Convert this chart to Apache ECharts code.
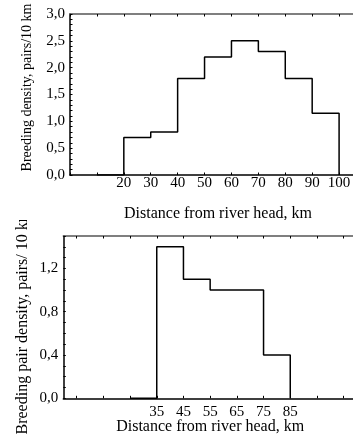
<!DOCTYPE html>
<html>
<head>
<meta charset="utf-8">
<script src="https://cdn.jsdelivr.net/npm/echarts@6/dist/echarts.min.js"></script>
<style>
html,body{margin:0;padding:0;overflow:hidden;width:353px;height:441px;background:#fff;}
#c1{position:absolute;left:0;top:0;width:380px;height:220px;}
#c2{position:absolute;left:0;top:220px;width:380px;height:221px;}
</style>
</head>
<body>
<div id="c1"></div>
<div id="c2"></div>
<script>
// Top chart: breeding density by 10-km section (left edge of each section)
var topEdges = [10, 20, 30, 40, 50, 60, 70, 80, 90, 100];
var topValues = [0, 0.7, 0.8, 1.8, 2.2, 2.5, 2.3, 1.8, 1.15, 0];
var topXLabels = [20, 30, 40, 50, 60, 70, 80, 90, 100];
var topYLabels = [0, 0.5, 1.0, 1.5, 2.0, 2.5, 3.0];

// Bottom chart
var botEdges = [25, 35, 45, 55, 65, 75, 85];
var botValues = [0, 1.4, 1.1, 1.0, 1.0, 0.4, 0];
var botXLabels = [35, 45, 55, 65, 75, 85];
var botYLabels = [0, 0.4, 0.8, 1.2];

function range(a, b, s) { var r = []; for (var v = a; v <= b + 1e-9; v += s) r.push(Math.round(v * 100) / 100); return r; }
var FONT = 'Liberation Serif';
function fmt(v) { return v.toFixed(1).replace('.', ','); }

function makeOption(cfg) {
  var xTicks = cfg.xTicks;
  var grid = cfg.grid;
  grid.outerBoundsMode = 'none';
  grid.containLabel = false;
  return {
    animation: false,
    grid: grid,
    xAxis: [{
      type: 'value', min: 0, max: cfg.xMax, position: 'bottom',
      name: 'Distance from river head, km', nameLocation: 'middle', nameGap: cfg.xNameGap,
      nameMoveOverlap: false,
      nameTextStyle: { fontFamily: FONT, fontSize: 16, color: '#000' },
      axisLine: { show: true, lineStyle: { color: '#000', width: 1.5 } },
      axisTick: { show: true, inside: true, length: 2.5, customValues: xTicks, lineStyle: { color: '#000', width: 1 } },
      axisLabel: { customValues: cfg.xLabels, margin: cfg.xLabelMargin, fontFamily: FONT, fontSize: 15, color: '#000' },
      splitLine: { show: false }
    }, {
      type: 'value', min: 0, max: cfg.xMax, position: 'top',
      axisLine: { show: true, lineStyle: { color: '#555', width: 1.5 } },
      axisTick: { show: true, inside: true, length: 2.5, customValues: xTicks, lineStyle: { color: '#000', width: 1 } },
      axisLabel: { show: false },
      splitLine: { show: false }
    }],
    yAxis: {
      type: 'value', min: 0, max: cfg.yMax,
      name: cfg.yName, nameLocation: 'middle', nameGap: cfg.yNameGap,
      nameMoveOverlap: false,
      nameTextStyle: { fontFamily: FONT, fontSize: cfg.yNameSize, color: '#000', padding: cfg.yNamePad },
      axisLine: { show: true, lineStyle: { color: '#000', width: 1.5 } },
      axisTick: { show: true, inside: true, length: 2.5, customValues: cfg.yTicks, lineStyle: { color: '#000', width: 1 } },
      axisLabel: { customValues: cfg.yLabels, formatter: fmt, margin: 5, fontFamily: FONT, fontSize: 15, color: '#000' },
      splitLine: { show: false }
    },
    series: [{
      type: 'line', step: 'end', symbol: 'none', xAxisIndex: 0,
      lineStyle: { color: '#000', width: 1.5 },
      data: cfg.edges.map(function (e, i) { return [e, cfg.values[i]]; })
    }]
  };
}

var c1 = echarts.init(document.getElementById('c1'));
c1.setOption(makeOption({
  grid: { left: 70, top: 14, right: 14, bottom: 45 },
  xMax: 110, yMax: 3.0,
  xTicks: range(0, 110, 10), xLabels: topXLabels, xLabelMargin: 1, xNameGap: 31,
  yTicks: range(0, 3.0, 0.1), yLabels: topYLabels,
  yName: 'Breeding density, pairs/10 km', yNameGap: 36, yNameSize: 14, yNamePad: [0, 0, 0, 14],
  edges: topEdges, values: topValues
}));

var c2 = echarts.init(document.getElementById('c2'));
c2.setOption(makeOption({
  grid: { left: 63.3, top: 16, right: 23, bottom: 42.7 },
  xMax: 110, yMax: 1.5,
  xTicks: range(5, 105, 10), xLabels: botXLabels, xLabelMargin: 6, xNameGap: 20,
  yTicks: range(0, 1.5, 0.1), yLabels: botYLabels,
  yName: 'Breeding pair density, pairs/ 10 km', yNameGap: 33, yNameSize: 16, yNamePad: [0, 10, 0, 0],
  edges: botEdges, values: botValues
}));
</script>
</body>
</html>
